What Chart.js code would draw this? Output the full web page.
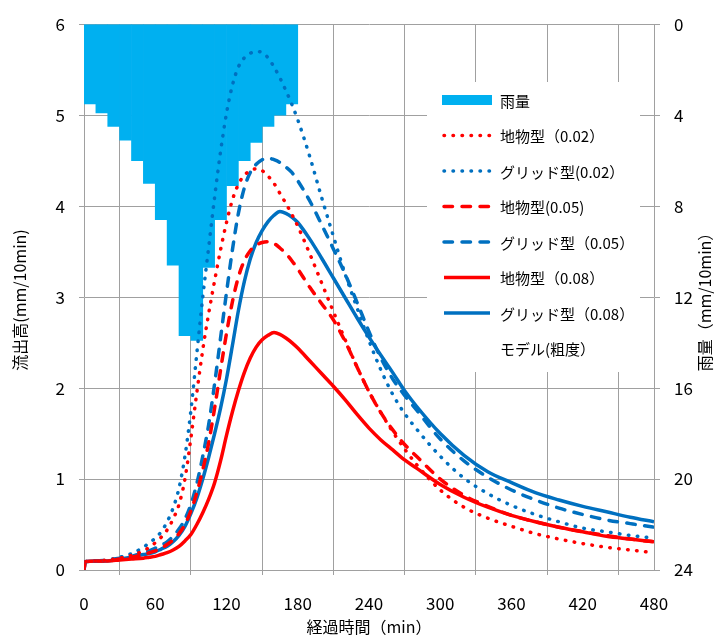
<!DOCTYPE html>
<html>
<head>
<meta charset="utf-8">
<script src="https://cdn.jsdelivr.net/npm/chart.js@4.4.1/dist/chart.umd.min.js"></script>
<style>
  html, body { margin: 0; padding: 0; background: #fff; }
  #wrap { width: 728px; height: 637px; }
</style>
</head>
<body>
<div id="wrap"><canvas id="myChart" width="728" height="637"></canvas></div>
<script>
// 経過時間 (min)
const times = [0, 1, 10, 20, 30, 40, 50,
  55, 60, 65, 70, 75, 80, 85, 90, 95, 100, 105, 110, 115, 120, 125, 130, 135, 140, 145, 150,
  155, 160, 165, 170, 175, 180,
  190, 200, 210, 220, 230, 240, 250, 260, 270, 280,
  300, 320, 340, 360, 380, 400, 420, 440, 460, 480]

// 流出高 (mm/10min)
const chibutsu002 = [0, 0.09, 0.1, 0.11, 0.13, 0.16, 0.21,
  0.25, 0.3, 0.36, 0.44, 0.56, 0.72, 1.0, 1.45, 1.95, 2.42, 2.82, 3.18, 3.52, 3.82, 4.07, 4.24, 4.34, 4.39, 4.41, 4.39,
  4.33, 4.25, 4.14, 4.03, 3.91, 3.78,
  3.48, 3.16, 2.84, 2.53, 2.23, 1.96, 1.73, 1.52, 1.33, 1.16,
  0.88, 0.69, 0.57, 0.48, 0.4, 0.34, 0.29, 0.25, 0.22, 0.19]
const grid002 = [0, 0.09, 0.1, 0.11, 0.14, 0.18, 0.25,
  0.3, 0.35, 0.42, 0.53, 0.68, 0.9, 1.25, 1.75, 2.38, 3.0, 3.55, 4.1, 4.6, 5.02, 5.33, 5.53, 5.63, 5.68, 5.7, 5.69,
  5.63, 5.53, 5.41, 5.27, 5.12, 4.95,
  4.55, 4.1, 3.67, 3.25, 2.88, 2.52, 2.2, 1.93, 1.72, 1.55,
  1.25, 1.01, 0.84, 0.71, 0.61, 0.53, 0.46, 0.42, 0.38, 0.35]
const chibutsu005 = [0, 0.09, 0.1, 0.1, 0.12, 0.14, 0.17,
  0.19, 0.21, 0.24, 0.28, 0.33, 0.4, 0.5, 0.65, 0.85, 1.1, 1.4, 1.78, 2.2, 2.6, 2.95, 3.22, 3.4, 3.51, 3.57, 3.6,
  3.61, 3.59, 3.54, 3.48, 3.4, 3.31,
  3.11, 2.93, 2.75, 2.51, 2.23, 1.96, 1.73, 1.54, 1.38, 1.25,
  1.0, 0.82, 0.7, 0.6, 0.53, 0.47, 0.42, 0.38, 0.34, 0.31]
const grid005 = [0, 0.09, 0.1, 0.11, 0.13, 0.15, 0.19,
  0.21, 0.24, 0.27, 0.31, 0.37, 0.45, 0.56, 0.72, 0.95, 1.25, 1.6, 2.05, 2.55, 3.05, 3.52, 3.92, 4.2, 4.37, 4.46, 4.51,
  4.53, 4.51, 4.48, 4.43, 4.37, 4.28,
  4.06, 3.8, 3.53, 3.25, 2.94, 2.62, 2.33, 2.1, 1.92, 1.76,
  1.44, 1.2, 1.02, 0.88, 0.77, 0.68, 0.61, 0.55, 0.51, 0.47]
const chibutsu008 = [0, 0.09, 0.1, 0.1, 0.11, 0.12, 0.13,
  0.14, 0.15, 0.17, 0.19, 0.22, 0.26, 0.32, 0.39, 0.5, 0.63, 0.78, 0.96, 1.2, 1.48, 1.74, 1.97, 2.17, 2.33, 2.45, 2.53,
  2.58, 2.61, 2.59, 2.55, 2.5, 2.44,
  2.3, 2.16, 2.02, 1.87, 1.71, 1.56, 1.43, 1.32, 1.21, 1.12,
  0.94, 0.8, 0.69, 0.6, 0.53, 0.47, 0.42, 0.37, 0.34, 0.31]
const grid008 = [0, 0.09, 0.1, 0.1, 0.12, 0.14, 0.17,
  0.18, 0.2, 0.23, 0.26, 0.31, 0.38, 0.48, 0.62, 0.79, 1.0, 1.24, 1.5, 1.78, 2.1, 2.47, 2.85, 3.17, 3.42, 3.6, 3.73,
  3.83, 3.9, 3.94, 3.92, 3.88, 3.82,
  3.64, 3.43, 3.21, 2.99, 2.77, 2.56, 2.36, 2.17, 1.97, 1.8,
  1.5, 1.26, 1.08, 0.96, 0.85, 0.77, 0.7, 0.64, 0.58, 0.53]

// 雨量 (mm/10min), 10分ごと (開始時刻)
const rainStart = [0, 10, 20, 30, 40, 50, 60, 70, 80, 90, 100, 110, 120, 130, 140, 150, 160, 170]
const rain = [3.5, 3.9, 4.5, 5.1, 6.0, 7.0, 8.6, 10.6, 13.7, 13.9, 10.7, 8.6, 7.1, 6.0, 5.2, 4.5, 4.0, 3.5]

const xTicks = [0, 60, 120, 180, 240, 300, 360, 420, 480]

const RED = '#ff0000'
const BLUE = '#0070c0'
const SKY = '#00b0f0'
const GRID = '#a0a0a0'
const FONT = '"Noto Sans CJK JP", "Noto Sans", sans-serif'

const DOT = [0.5, 8.5]
const DASH = [8.5, 9.5]

function toXY(vals) {
  return vals.map((v, i) => ({ x: times[i], y: v }))
}

function lineSet(label, data, color, dash) {
  return {
    type: 'line',
    label: label,
    data: toXY(data),
    borderColor: color,
    backgroundColor: color,
    borderWidth: 3.5,
    borderDash: dash,
    borderCapStyle: dash.length ? 'round' : 'butt',
    borderJoinStyle: 'round',
    pointRadius: 0,
    cubicInterpolationMode: 'monotone',
    fill: false,
    yAxisID: 'y',
    order: 1
  }
}

// 凡例とタイトル (自前で描く)
const extras = {
  id: 'extras',
  afterDraw(chart) {
    const ctx = chart.ctx
    const area = chart.chartArea
    ctx.save()

    // 右軸の目盛り (内側にも少し出す)
    const y1 = chart.scales.y1
    ctx.strokeStyle = GRID
    ctx.lineWidth = 1
    y1.ticks.forEach(t => {
      const py = Math.round(y1.getPixelForValue(t.value)) + 0.5
      ctx.beginPath()
      ctx.moveTo(area.right - 5, py)
      ctx.lineTo(area.right, py)
      ctx.stroke()
    })

    // 軸タイトル
    ctx.fillStyle = '#000'
    ctx.font = '16px ' + FONT
    ctx.textAlign = 'center'
    ctx.textBaseline = 'middle'
    ctx.fillText('経過時間（min）', (area.left + area.right) / 2, 627)

    ctx.save()
    ctx.translate(20, 300)
    ctx.rotate(-Math.PI / 2)
    ctx.fillText('流出高(mm/10min)', 0, 0)
    ctx.restore()

    ctx.save()
    ctx.translate(705, 298)
    ctx.rotate(-Math.PI / 2)
    ctx.fillText('雨量（mm/10min）', 0, 0)
    ctx.restore()

    // 凡例
    ctx.fillStyle = '#fff'
    ctx.fillRect(427, 82, 213, 248)
    ctx.fillRect(446, 330, 194, 42)

    const items = chart.data.datasets
    const x0 = 442, x1 = 492
    let y = 100
    ctx.font = '15px ' + FONT
    ctx.textAlign = 'left'
    items.forEach(ds => {
      if (ds.type === 'bar') {
        ctx.fillStyle = ds.backgroundColor
        ctx.fillRect(x0, y - 5, x1 - x0, 10)
      } else {
        ctx.strokeStyle = ds.borderColor
        ctx.lineWidth = ds.borderWidth
        ctx.lineCap = ds.borderCapStyle
        ctx.setLineDash(ds.borderDash)
        ctx.beginPath()
        ctx.moveTo(x0 + 2, y)
        ctx.lineTo(x1 - 2, y)
        ctx.stroke()
        ctx.setLineDash([])
      }
      ctx.fillStyle = '#000'
      ctx.fillText(ds.label, 500, y + 1)
      y += 35.5
    })
    ctx.fillText('モデル(粗度）', 500, y + 1)
    ctx.restore()
  }
}

const ctx = document.getElementById('myChart').getContext('2d')

const myChart = new Chart(ctx, {
  type: 'line',
  data: {
    datasets: [
      {
        type: 'bar',
        label: '雨量',
        data: rainStart.map((t, i) => ({ x: t + 5, y: rain[i] })),
        backgroundColor: SKY,
        borderWidth: 0,
        barPercentage: 1,
        categoryPercentage: 1,
        yAxisID: 'y1',
        order: 10
      },
      lineSet('地物型（0.02）', chibutsu002, RED, DOT),
      lineSet('グリッド型(0.02）', grid002, BLUE, DOT),
      lineSet('地物型(0.05)', chibutsu005, RED, DASH),
      lineSet('グリッド型（0.05）', grid005, BLUE, DASH),
      lineSet('地物型（0.08）', chibutsu008, RED, []),
      lineSet('グリッド型（0.08）', grid008, BLUE, [])
    ]
  },
  options: {
    responsive: false,
    animation: false,
    layout: { padding: { top: 17, left: 0, right: 0, bottom: 0 } },
    scales: {
      x: {
        type: 'linear',
        min: 0,
        max: 480,
        offset: false,
        afterBuildTicks: s => { s.ticks = xTicks.map(v => ({ value: v })) },
        ticks: { color: '#000', font: { family: FONT, size: 17 }, padding: 18, maxRotation: 0 },
        grid: { color: GRID, tickLength: 5 },
        border: { color: GRID },
        afterFit: s => { s.height = 67 }
      },
      y: {
        position: 'left',
        min: 0,
        max: 6,
        ticks: { stepSize: 1, color: '#000', font: { family: FONT, size: 17 }, padding: 14 },
        grid: { color: GRID, tickLength: 5 },
        border: { color: GRID },
        afterFit: s => { s.width = 84 }
      },
      y1: {
        position: 'right',
        reverse: true,
        min: 0,
        max: 24,
        ticks: { stepSize: 4, color: '#000', font: { family: FONT, size: 17 }, padding: 14 },
        grid: { drawOnChartArea: false, color: GRID, tickLength: 6 },
        border: { color: GRID },
        afterFit: s => { s.width = 74 }
      }
    },
    plugins: {
      legend: { display: false },
      tooltip: { enabled: false }
    }
  },
  plugins: [extras]
})
</script>
</body>
</html>
